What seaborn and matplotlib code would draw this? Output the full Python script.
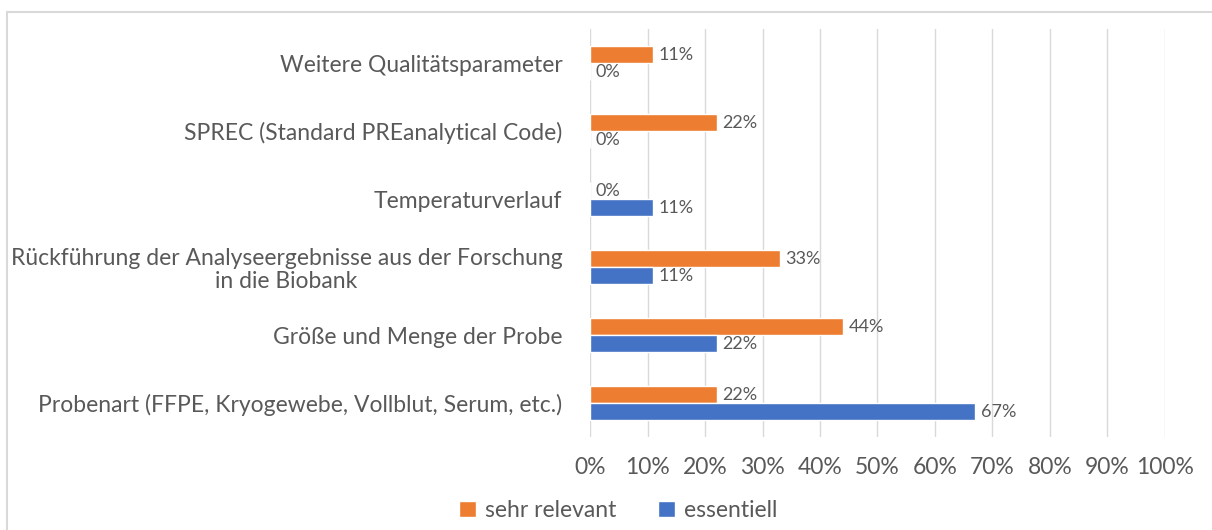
import pandas as pd
import matplotlib
matplotlib.use("Agg")
import matplotlib.pyplot as plt
import seaborn as sns
from matplotlib.ticker import PercentFormatter, MultipleLocator

sns.set_style("white")
plt.rcParams["font.family"] = ["Lato", "DejaVu Sans"]

# ---------------------------------------------------------------------------
# Data
# ---------------------------------------------------------------------------
categories = [
    "Weitere Qualitätsparameter",
    "SPREC (Standard PREanalytical Code)",
    "Temperaturverlauf",
    "Rückführung der Analyseergebnisse aus der Forschung\nin die Biobank",
    "Größe und Menge der Probe",
    "Probenart (FFPE, Kryogewebe, Vollblut, Serum, etc.)",
]
series_names = ["sehr relevant", "essentiell"]
sehr_relevant = [11, 22, 0, 33, 44, 22]
essentiell = [0, 0, 11, 11, 22, 67]

TEXT = "#595959"
palette = {"sehr relevant": "#ED7D31", "essentiell": "#4472C4"}

df = pd.DataFrame({
    "Kategorie": categories * 2,
    "Serie": [series_names[0]] * len(categories) + [series_names[1]] * len(categories),
    "Wert": sehr_relevant + essentiell,
})

fig = plt.figure(figsize=(12.12, 5.3), dpi=100)
ax = fig.add_axes([0.487, 0.175, 0.474, 0.77])

sns.barplot(
    data=df, x="Wert", y="Kategorie", hue="Serie", order=categories,
    hue_order=series_names, palette=palette, orient="h", width=0.5,
    saturation=1, ax=ax, legend=True,
)

for cont in ax.containers:
    ax.bar_label(cont, labels=[f"{v:.0f}%" for v in cont.datavalues],
                 padding=4, fontsize=13, color=TEXT)

ax.set_xlim(0, 100)
ax.xaxis.set_major_locator(MultipleLocator(10))
ax.xaxis.set_major_formatter(PercentFormatter(decimals=0))
ax.grid(axis="x", color="#d9d9d9", linewidth=1)
ax.set_axisbelow(True)
for s in ax.spines.values():
    s.set_visible(False)
ax.set_xlabel("")
ax.set_ylabel("")
ax.tick_params(axis="x", length=0, pad=14, labelsize=16.5, labelcolor=TEXT)
ax.tick_params(axis="y", length=0, pad=20, labelsize=16.5, labelcolor=TEXT)
for lab in ax.get_yticklabels():
    lab.set_multialignment("center")
    lab.set_linespacing(1.1)

handles, labels = ax.get_legend_handles_labels()
ax.get_legend().remove()
fig.legend(handles, labels, loc="lower center", ncol=2, frameon=False,
           fontsize=16.5, labelcolor=TEXT, handlelength=0.75, handleheight=0.75,
           handletextpad=0.4, columnspacing=1.8, bbox_to_anchor=(0.51, -0.022))

# light frame around the chart area
fig.patches.append(plt.Rectangle((7 / 1212, -0.1), 1.2, 1 - 12 / 530 + 0.1,
                                 transform=fig.transFigure, fill=False,
                                 edgecolor="#d9d9d9", linewidth=1.5))

fig.savefig("out.png", dpi=100)
